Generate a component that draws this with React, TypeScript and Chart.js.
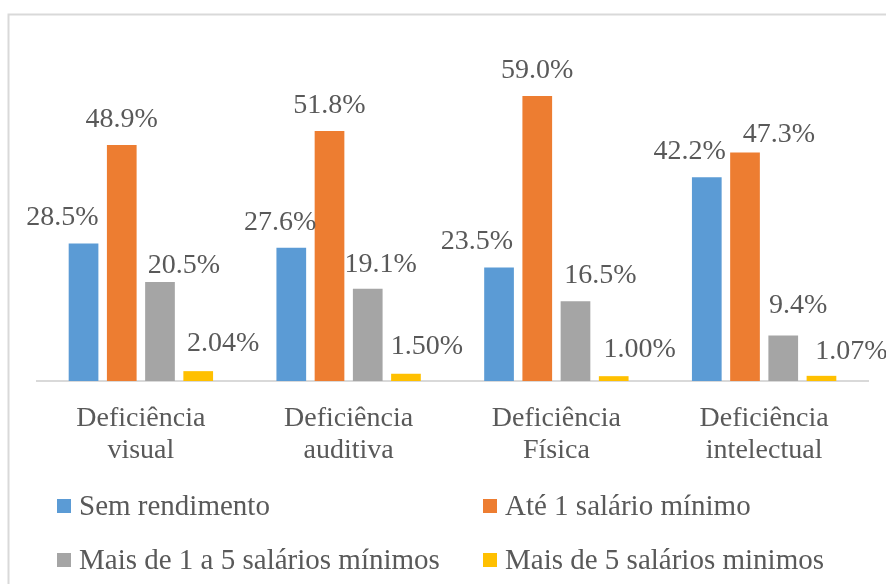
import React, { useEffect, useRef } from "react";
import { Chart, registerables } from "chart.js";

Chart.register(...registerables);

// ---- data ----
const CATEGORIES: string[][] = [
  ["Deficiência", "visual"],
  ["Deficiência", "auditiva"],
  ["Deficiência", "Física"],
  ["Deficiência", "intelectual"],
];
const SERIES_NAMES = [
  "Sem rendimento",
  "Até 1 salário mínimo",
  "Mais de 1 a 5 salários mínimos",
  "Mais de 5 salários minimos",
];
const SEM_RENDIMENTO = [28.5, 27.6, 23.5, 42.2];
const ATE_1_SM = [48.9, 51.8, 59.0, 47.3];
const DE_1_A_5_SM = [20.5, 19.1, 16.5, 9.4];
const MAIS_DE_5_SM = [2.04, 1.5, 1.0, 1.07];
const LABEL_DECIMALS = [1, 1, 1, 2];

// ---- styles ----
const COLORS = ["#5B9BD5", "#ED7D31", "#A5A5A5", "#FFC000"];
const TEXT_COLOR = "#595959";
const FONT_FAMILY = "Liberation Serif";
// manual label displacement (as in the source chart), per series per category
const LABEL_DX = [
  [-21, -11, -22, -17],
  [0, 0, 0, 34],
  [24, 13, 25, 15],
  [25, 21, 26, 30],
];
const LABEL_GAP = [
  [18, 18, 19, 18],
  [18, 18, 18, 11],
  [9, 17, 18, 23],
  [20, 20, 19, 17],
];
const LEGEND_COL_X = [57, 483];
const LEGEND_ROW_Y = [499, 553];

const framePlugin = {
  id: "frame",
  beforeDraw(chart: any) {
    const ctx = chart.ctx;
    ctx.save();
    ctx.fillStyle = "#ffffff";
    ctx.fillRect(0, 0, chart.width, chart.height);
    ctx.strokeStyle = "#d9d9d9";
    ctx.lineWidth = 2;
    ctx.strokeRect(8.5, 14.5, chart.width + 40, chart.height + 40);
    ctx.restore();
  },
};

const labelPlugin = {
  id: "barLabels",
  afterDatasetsDraw(chart: any) {
    const ctx = chart.ctx;
    ctx.save();
    ctx.font = "28px " + FONT_FAMILY;
    ctx.fillStyle = TEXT_COLOR;
    ctx.textAlign = "center";
    ctx.textBaseline = "alphabetic";
    chart.data.datasets.forEach((ds: any, i: number) => {
      const meta = chart.getDatasetMeta(i);
      meta.data.forEach((bar: any, j: number) => {
        const v = ds.data[j] as number;
        const txt = v.toFixed(LABEL_DECIMALS[i]) + "%";
        ctx.fillText(txt, bar.x + LABEL_DX[i][j], bar.y - LABEL_GAP[i][j]);
      });
    });
    ctx.restore();
  },
};

const legendPlugin = {
  id: "gridLegend",
  afterDraw(chart: any) {
    const ctx = chart.ctx;
    ctx.save();
    ctx.font = "29px " + FONT_FAMILY;
    ctx.textAlign = "left";
    ctx.textBaseline = "alphabetic";
    chart.data.datasets.forEach((ds: any, i: number) => {
      const x = LEGEND_COL_X[i % 2];
      const y = LEGEND_ROW_Y[Math.floor(i / 2)];
      ctx.fillStyle = ds.backgroundColor;
      ctx.fillRect(x, y, 14, 14);
      ctx.fillStyle = TEXT_COLOR;
      ctx.fillText(ds.label, x + 22, y + 16);
    });
    ctx.restore();
  },
};

const WARM_FONTS = [
  "12px 'Helvetica Neue', 'Helvetica', 'Arial', sans-serif",
  "28px serif",
  "28px DejaVu Serif",
  "28px Times New Roman",
  "28px Liberation Serif",
  '28px "Liberation Serif"',
  "29px Liberation Serif",
];

export default function App() {
  const ref = useRef<HTMLCanvasElement>(null);
  useEffect(() => {
    const canvas = ref.current!;
    const wctx = canvas.getContext("2d")!;
    WARM_FONTS.forEach((f) => {
      wctx.font = f;
      wctx.measureText("Deficiência 48.9%");
      wctx.fillStyle = "#ffffff";
      wctx.fillText("Deficiência 48.9%", 10, 30);
    });
    const series = [SEM_RENDIMENTO, ATE_1_SM, DE_1_A_5_SM, MAIS_DE_5_SM];
    const chart = new Chart(canvas, {
      type: "bar",
      data: {
        labels: CATEGORIES,
        datasets: series.map((d, i) => ({
          label: SERIES_NAMES[i],
          data: d,
          backgroundColor: COLORS[i],
          borderWidth: 0,
          categoryPercentage: 0.736,
          barPercentage: 0.777,
        })),
      },
      options: {
        responsive: false,
        animation: false,
        layout: { padding: { left: 37, right: 18, top: 43, bottom: 103 } },
        plugins: {
          legend: { display: false },
          tooltip: { enabled: false },
        },
        scales: {
          x: {
            grid: { display: false },
            border: { display: true, color: "#d9d9d9", width: 2 },
            ticks: {
              color: TEXT_COLOR,
              font: { family: FONT_FAMILY, size: 28, lineHeight: 1.17 },
              padding: 13,
              maxRotation: 0,
              autoSkip: false,
            },
            afterFit: (s: any) => {
              s.height = 100;
            },
          },
          y: { display: false, min: 0, max: 70 },
        },
      },
      plugins: [framePlugin, labelPlugin, legendPlugin],
    } as any);
    let alive = true;
    const redraw = () => {
      if (alive) chart.update();
    };
    const t1 = setTimeout(redraw, 30);
    const t2 = setTimeout(redraw, 300);
    return () => {
      alive = false;
      clearTimeout(t1);
      clearTimeout(t2);
      chart.destroy();
    };
  }, []);
  return (
    <div style={{ position: "absolute", left: 0, top: 0, width: 886, height: 584, overflow: "hidden" }}>
      <div style={{ position: "absolute", left: 20, top: 20, fontFamily: FONT_FAMILY, fontSize: 28, color: "#ffffff" }}>
        Deficiência 48.9%
      </div>
      <canvas ref={ref} width={886} height={584} style={{ display: "block", position: "absolute", left: 0, top: 0 }} />
    </div>
  );
}
